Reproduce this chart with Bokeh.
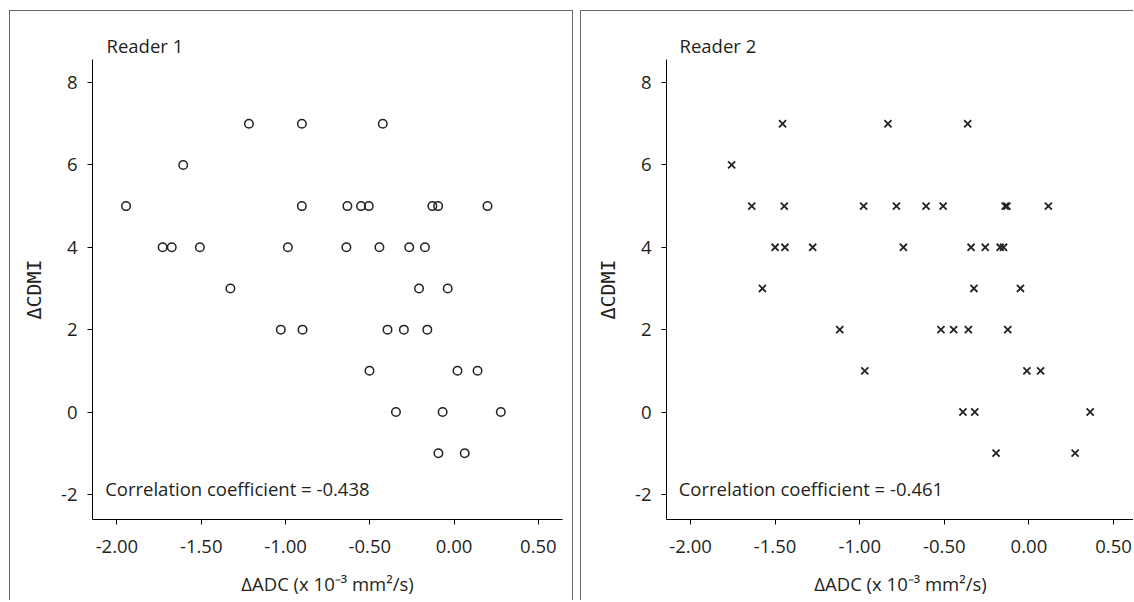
from bokeh.plotting import figure
from bokeh.layouts import row
from bokeh.models import FixedTicker, NumeralTickFormatter, Label, Range1d
from bokeh.embed import file_html
from bokeh.resources import INLINE

# Reader 1 data
r1_x = [-1.217, -0.903, -0.423,
        -1.607,
        -1.946, -0.903, -0.633, -0.552, -0.506, -0.129, -0.095, 0.198,
        -1.729, -1.675, -1.508, -0.986, -0.639, -0.443, -0.266, -0.173,
        -1.327, -0.208, -0.038,
        -1.028, -0.899, -0.395, -0.298, -0.159,
        -0.502, 0.020, 0.139,
        -0.345, -0.068, 0.277,
        -0.093, 0.063]
r1_y = [7, 7, 7,
        6,
        5, 5, 5, 5, 5, 5, 5, 5,
        4, 4, 4, 4, 4, 4, 4, 4,
        3, 3, 3,
        2, 2, 2, 2, 2,
        1, 1, 1,
        0, 0, 0,
        -1, -1]

# Reader 2 data
r2_x = [-1.456, -0.833, -0.362,
        -1.757,
        -1.638, -1.446, -0.977, -0.783, -0.608, -0.507, -0.140, -0.130, 0.115,
        -1.500, -1.442, -1.278, -0.742, -0.342, -0.258, -0.170, -0.150,
        -1.575, -0.325, -0.050,
        -1.118, -0.520, -0.445, -0.358, -0.125,
        -0.970, -0.012, 0.069,
        -0.390, -0.320, 0.362,
        -0.194, 0.273]
r2_y = [7, 7, 7,
        6,
        5, 5, 5, 5, 5, 5, 5, 5, 5,
        4, 4, 4, 4, 4, 4, 4, 4,
        3, 3, 3,
        2, 2, 2, 2, 2,
        1, 1, 1,
        0, 0, 0,
        -1, -1]

x_ticks = [-2.0, -1.5, -1.0, -0.5, 0.0, 0.5]
y_ticks = [-2, 0, 2, 4, 6, 8]
titles = ["Reader 1", "Reader 2"]
corr_texts = ["Correlation coefficient = -0.438", "Correlation coefficient = -0.461"]
x_label = "\u0394ADC (x 10\u207b\u00b3 mm\u00b2/s)"
y_label = "\u0394CDMI"

FONT = "Open Sans"
FS = "18.5px"
TXT = "#231f20"


def make_panel(xs, ys, marker, title, corr, width, x_start, x_end, min_left, min_right,
               margin, styles, title_offset):
    p = figure(width=width, height=590, output_backend="svg", toolbar_location=None,
               x_range=Range1d(x_start, x_end), y_range=Range1d(-2.61, 8.56),
               min_border_left=min_left, min_border_right=min_right,
               min_border_top=48, min_border_bottom=82,
               margin=margin, styles=styles)
    p.outline_line_color = None
    p.xgrid.grid_line_color = None
    p.ygrid.grid_line_color = None
    p.background_fill_color = "white"
    p.border_fill_color = "white"

    p.title.text = title
    p.title.text_font = FONT
    p.title.text_font_size = FS
    p.title.text_font_style = "normal"
    p.title.text_color = TXT
    p.title.align = "left"
    p.title.offset = title_offset
    p.title.standoff = 4

    if marker == "circle":
        p.scatter(xs, ys, marker="circle", size=8.5, fill_color=None,
                  line_color="#222222", line_width=1.5)
    else:
        p.scatter(xs, ys, marker="x", size=10, line_color="#222222", line_width=1.8)

    for ax in (p.xaxis[0], p.yaxis[0]):
        ax.axis_line_color = "black"
        ax.axis_line_width = 1
        ax.major_tick_line_color = "black"
        ax.major_tick_out = 5
        ax.major_tick_in = 0
        ax.minor_tick_line_color = None
        ax.major_label_text_font = FONT
        ax.major_label_text_font_size = FS
        ax.major_label_text_color = TXT
        ax.axis_label_text_font_style = "normal"
        ax.axis_label_text_color = TXT

    p.xaxis.ticker = FixedTicker(ticks=x_ticks)
    p.xaxis.formatter = NumeralTickFormatter(format="0.00")
    p.xaxis.major_label_standoff = 15
    p.xaxis.axis_label = x_label
    p.xaxis.axis_label_text_font = FONT
    p.xaxis.axis_label_text_font_size = FS
    p.xaxis.axis_label_standoff = 15

    p.yaxis.ticker = FixedTicker(ticks=y_ticks)
    p.yaxis.formatter = NumeralTickFormatter(format="0")
    p.yaxis.major_label_standoff = 10
    p.yaxis.axis_label = y_label
    p.yaxis.axis_label_text_font = "DejaVu Sans Mono"
    p.yaxis.axis_label_text_font_size = "20px"
    p.yaxis.axis_label_standoff = 12

    p.add_layout(Label(x=-2.07, y=-1.85, text=corr, text_font=FONT,
                       text_font_size=FS, text_color=TXT,
                       text_baseline="middle"))
    return p


border = "1.5px solid #666"
p1 = make_panel(r1_x, r1_y, "circle", titles[0], corr_texts[0], 564, -2.145, 0.643, 82, 12,
                (10, 0, 0, 9),
                {"border-top": border, "border-left": border,
                 "border-right": border, "box-sizing": "border-box"}, 14)
p2 = make_panel(r2_x, r2_y, "x", titles[1], corr_texts[1], 553, -2.142, 0.624, 85, 0,
                (10, 0, 0, 7),
                {"border-top": border, "border-left": border,
                 "box-sizing": "border-box"}, 13)

layout = row(p1, p2)

open("out.html", "w").write(file_html(layout, INLINE))
